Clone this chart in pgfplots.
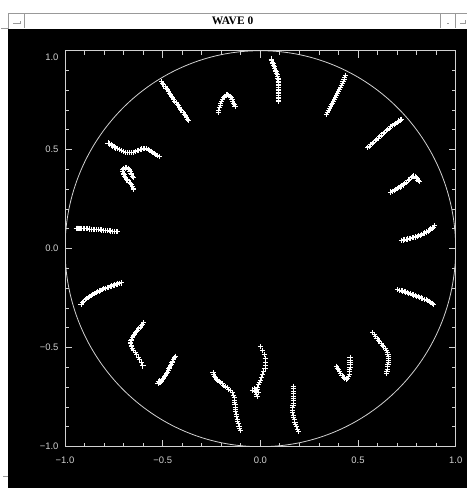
\documentclass[border=0pt]{standalone}
\usepackage{pgfplots}
\pgfplotsset{compat=1.18}
\usepackage{fontspec}
\setmainfont{Liberation Sans}
\newfontfamily\titlefont{Liberation Serif}
\definecolor{axgray}{gray}{0.82}
\definecolor{bargray}{gray}{0.6}
\begin{document}
\begin{tikzpicture}[x=1bp,y=1bp]
% window frame
\fill[black] (0,0) rectangle (467,488);
\fill[white] (0,0) rectangle (8,488);
\fill[white] (0,459) rectangle (467,488);
\draw[bargray, line width=0.8bp] (8,475) -- (467,475);
\draw[bargray, line width=0.8bp] (8,459) -- (8,475);
\draw[bargray, line width=0.8bp] (24,460) -- (24,475);
\draw[bargray, line width=0.8bp] (1,460) -- (8,460);
\draw[bargray, line width=0.6bp] (13,465) -- (20,465) -- (20,467);
\draw[bargray, line width=0.8bp] (440,460) -- (440,475);
\draw[bargray, line width=0.6bp] (447,465) -- (449,465);
\draw[bargray, line width=0.8bp] (455,460) -- (455,475);
\draw[bargray, line width=0.6bp] (460,465) -- (465,465) -- (465,468);
\draw[bargray, line width=0.6bp] (3,12) -- (8,12);
\node[font=\titlefont\bfseries\fontsize{11.5}{13}\selectfont, inner sep=0pt] at (232.5,467.5) {WAVE 0};
\begin{axis}[
  at={(65bp,41.3bp)}, anchor=south west,
  scale only axis, width=390.7bp, height=396bp,
  xmin=-1, xmax=1, ymin=-1, ymax=1,
  xtick={-1,-0.5,0,0.5,1}, ytick={-1,-0.5,0,0.5,1},
  xticklabels={−1.0,−0.5,0.0,0.5,1.0},
  yticklabels={−1.0,−0.5,0.0,0.5,\smash{\raisebox{-9.5bp}{1.0}}},
  minor tick num=4,
  tick align=inside,
  major tick length=7bp, minor tick length=4bp,
  axis line style={axgray, line width=0.8bp},
  every tick/.style={axgray, line width=0.8bp},
  tick label style={axgray, font=\fontsize{9.5}{11}\selectfont},
  xticklabel style={yshift=-7bp},
  yticklabel style={xshift=-3bp},
]
\draw[axgray, line width=0.8bp] (axis cs:0,0) ellipse [x radius=1, y radius=1];
\addplot[only marks, mark=+, mark size=2.6bp, white, mark options={line width=0.9bp}] coordinates {
(-0.505,0.843) (-0.499,0.835) (-0.494,0.827) (-0.488,0.819) (-0.483,0.811) (-0.477,0.803) (-0.472,0.795) (-0.466,0.786) (-0.460,0.778) (-0.455,0.770) (-0.449,0.762) (-0.443,0.754) (-0.438,0.746) (-0.432,0.738) (-0.426,0.730) (-0.420,0.721) (-0.414,0.713) (-0.408,0.705) (-0.402,0.697) (-0.396,0.689) (-0.390,0.680) (-0.384,0.672) (-0.378,0.664) (-0.372,0.655) (-0.368,0.648)
(-0.216,0.690) (-0.213,0.700) (-0.210,0.711) (-0.206,0.722) (-0.202,0.733) (-0.198,0.743) (-0.193,0.753) (-0.188,0.762) (-0.182,0.770) (-0.176,0.776) (-0.169,0.778) (-0.162,0.775) (-0.155,0.769) (-0.150,0.762) (-0.145,0.754) (-0.141,0.745) (-0.137,0.736) (-0.133,0.727) (-0.130,0.720)
(-0.780,0.534) (-0.772,0.529) (-0.764,0.524) (-0.756,0.519) (-0.748,0.514) (-0.740,0.509) (-0.731,0.504) (-0.722,0.499) (-0.712,0.494) (-0.702,0.490) (-0.692,0.487) (-0.682,0.485) (-0.670,0.484) (-0.658,0.485) (-0.648,0.487) (-0.639,0.490) (-0.631,0.494) (-0.623,0.497) (-0.615,0.500) (-0.607,0.503) (-0.599,0.505) (-0.591,0.505) (-0.583,0.504) (-0.575,0.501) (-0.567,0.497) (-0.559,0.492) (-0.551,0.486) (-0.543,0.480) (-0.535,0.475) (-0.527,0.470) (-0.519,0.465)
(-0.650,0.358) (-0.654,0.366) (-0.658,0.374) (-0.662,0.382) (-0.667,0.390) (-0.672,0.398) (-0.677,0.405) (-0.684,0.409) (-0.692,0.408) (-0.699,0.404) (-0.704,0.398) (-0.705,0.390) (-0.702,0.382) (-0.698,0.374) (-0.694,0.366) (-0.689,0.358) (-0.684,0.351) (-0.678,0.344) (-0.672,0.337) (-0.666,0.330) (-0.660,0.322) (-0.655,0.313) (-0.651,0.305) (-0.648,0.299)
(-0.942,0.103) (-0.938,0.103) (-0.934,0.103) (-0.930,0.103) (-0.925,0.102) (-0.920,0.102) (-0.914,0.102) (-0.907,0.101) (-0.899,0.101) (-0.891,0.100) (-0.883,0.100) (-0.874,0.099) (-0.865,0.098) (-0.856,0.097) (-0.847,0.097) (-0.838,0.096) (-0.829,0.095) (-0.820,0.095) (-0.811,0.094) (-0.802,0.093) (-0.793,0.092) (-0.784,0.091) (-0.775,0.090) (-0.766,0.089) (-0.757,0.088) (-0.748,0.087) (-0.739,0.086) (-0.730,0.085)
(0.056,0.958) (0.059,0.950) (0.062,0.942) (0.065,0.934) (0.068,0.926) (0.071,0.918) (0.074,0.910) (0.077,0.902) (0.080,0.894) (0.083,0.886) (0.086,0.878) (0.088,0.870) (0.090,0.862) (0.091,0.854) (0.092,0.846) (0.092,0.838) (0.093,0.830) (0.093,0.822) (0.093,0.814) (0.093,0.806) (0.093,0.798) (0.093,0.790) (0.093,0.782) (0.093,0.774) (0.093,0.766) (0.093,0.758) (0.093,0.750) (0.093,0.742)
(0.436,0.876) (0.432,0.866) (0.428,0.856) (0.423,0.846) (0.419,0.836) (0.414,0.826) (0.409,0.816) (0.404,0.806) (0.399,0.796) (0.394,0.786) (0.389,0.776) (0.384,0.766) (0.379,0.756) (0.374,0.746) (0.369,0.736) (0.364,0.726) (0.359,0.716) (0.354,0.706) (0.349,0.696) (0.344,0.687) (0.339,0.678)
(0.724,0.654) (0.716,0.650) (0.708,0.645) (0.700,0.639) (0.692,0.633) (0.684,0.627) (0.676,0.621) (0.668,0.615) (0.660,0.609) (0.652,0.602) (0.644,0.595) (0.636,0.588) (0.628,0.581) (0.620,0.574) (0.612,0.566) (0.604,0.559) (0.596,0.552) (0.588,0.545) (0.580,0.538) (0.572,0.531) (0.564,0.524) (0.556,0.517) (0.550,0.512)
(0.668,0.286) (0.676,0.290) (0.684,0.294) (0.692,0.299) (0.700,0.303) (0.708,0.308) (0.716,0.312) (0.724,0.317) (0.732,0.322) (0.740,0.328) (0.748,0.335) (0.756,0.343) (0.764,0.351) (0.771,0.358) (0.778,0.364) (0.786,0.367) (0.792,0.366) (0.797,0.360) (0.802,0.353) (0.807,0.346) (0.812,0.340)
(0.722,0.043) (0.730,0.044) (0.738,0.046) (0.746,0.047) (0.754,0.049) (0.762,0.051) (0.770,0.053) (0.778,0.055) (0.786,0.057) (0.794,0.059) (0.802,0.062) (0.810,0.065) (0.818,0.068) (0.826,0.071) (0.834,0.075) (0.842,0.079) (0.850,0.084) (0.858,0.089) (0.865,0.094) (0.872,0.099) (0.879,0.104) (0.886,0.109) (0.893,0.115)
(-0.918,-0.280) (-0.911,-0.272) (-0.904,-0.265) (-0.897,-0.258) (-0.889,-0.252) (-0.881,-0.246) (-0.873,-0.241) (-0.865,-0.236) (-0.857,-0.231) (-0.849,-0.227) (-0.841,-0.222) (-0.833,-0.218) (-0.825,-0.214) (-0.817,-0.210) (-0.809,-0.206) (-0.801,-0.203) (-0.793,-0.200) (-0.785,-0.197) (-0.777,-0.194) (-0.769,-0.191) (-0.761,-0.188) (-0.753,-0.185) (-0.745,-0.183) (-0.737,-0.180) (-0.729,-0.178) (-0.721,-0.176) (-0.713,-0.173)
(-0.598,-0.375) (-0.604,-0.383) (-0.610,-0.390) (-0.616,-0.397) (-0.622,-0.404) (-0.628,-0.411) (-0.634,-0.418) (-0.640,-0.425) (-0.646,-0.432) (-0.651,-0.440) (-0.655,-0.448) (-0.659,-0.456) (-0.662,-0.464) (-0.664,-0.472) (-0.663,-0.480) (-0.661,-0.488) (-0.658,-0.496) (-0.654,-0.504) (-0.648,-0.514) (-0.641,-0.524) (-0.633,-0.535) (-0.625,-0.547) (-0.617,-0.560) (-0.609,-0.575) (-0.601,-0.592)
(-0.436,-0.543) (-0.440,-0.551) (-0.444,-0.559) (-0.448,-0.567) (-0.452,-0.575) (-0.456,-0.583) (-0.460,-0.591) (-0.464,-0.599) (-0.468,-0.607) (-0.472,-0.615) (-0.476,-0.623) (-0.480,-0.631) (-0.484,-0.639) (-0.489,-0.647) (-0.494,-0.655) (-0.500,-0.662) (-0.506,-0.668) (-0.512,-0.673) (-0.518,-0.677) (-0.524,-0.680) (-0.520,-0.670) (-0.514,-0.668)
(-0.242,-0.627) (-0.238,-0.635) (-0.234,-0.643) (-0.229,-0.651) (-0.224,-0.658) (-0.218,-0.665) (-0.211,-0.671) (-0.203,-0.677) (-0.195,-0.683) (-0.187,-0.689) (-0.179,-0.695) (-0.171,-0.702) (-0.162,-0.710) (-0.152,-0.718) (-0.143,-0.728) (-0.137,-0.740) (-0.134,-0.752) (-0.132,-0.764) (-0.131,-0.776) (-0.130,-0.788) (-0.129,-0.800) (-0.128,-0.812) (-0.126,-0.824) (-0.124,-0.836) (-0.122,-0.848) (-0.119,-0.860) (-0.116,-0.872) (-0.113,-0.884) (-0.109,-0.896) (-0.105,-0.908) (-0.101,-0.918)
(0.000,-0.495) (0.012,-0.515) (0.020,-0.535) (0.025,-0.555) (0.026,-0.572) (0.026,-0.588) (0.024,-0.604) (0.018,-0.620) (0.012,-0.636) (0.006,-0.652) (0.000,-0.664) (-0.006,-0.676) (-0.010,-0.688) (-0.014,-0.700) (-0.016,-0.712) (-0.018,-0.724) (-0.018,-0.736) (-0.017,-0.746) (-0.030,-0.708) (-0.040,-0.714) (-0.025,-0.720) (-0.012,-0.728)
(0.168,-0.695) (0.169,-0.708) (0.169,-0.720) (0.169,-0.732) (0.169,-0.744) (0.169,-0.756) (0.168,-0.768) (0.168,-0.780) (0.167,-0.792) (0.166,-0.804) (0.166,-0.816) (0.166,-0.828) (0.168,-0.840) (0.170,-0.852) (0.173,-0.864) (0.177,-0.876) (0.181,-0.888) (0.186,-0.900) (0.191,-0.912) (0.196,-0.924)
(0.390,-0.594) (0.395,-0.603) (0.400,-0.612) (0.406,-0.621) (0.412,-0.630) (0.418,-0.639) (0.425,-0.648) (0.432,-0.656) (0.440,-0.661) (0.447,-0.655) (0.452,-0.645) (0.455,-0.634) (0.457,-0.622) (0.458,-0.610) (0.459,-0.598) (0.459,-0.586) (0.459,-0.574) (0.459,-0.562) (0.459,-0.550)
(0.576,-0.425) (0.583,-0.434) (0.590,-0.443) (0.597,-0.452) (0.604,-0.461) (0.611,-0.470) (0.618,-0.479) (0.625,-0.488) (0.632,-0.496) (0.639,-0.504) (0.645,-0.513) (0.650,-0.523) (0.653,-0.533) (0.655,-0.543) (0.655,-0.553) (0.655,-0.563) (0.654,-0.573) (0.653,-0.584) (0.652,-0.596) (0.650,-0.608) (0.648,-0.620) (0.647,-0.631)
(0.704,-0.208) (0.712,-0.210) (0.720,-0.212) (0.728,-0.214) (0.736,-0.216) (0.744,-0.219) (0.752,-0.222) (0.760,-0.225) (0.768,-0.228) (0.776,-0.231) (0.784,-0.234) (0.792,-0.237) (0.800,-0.240) (0.808,-0.243) (0.816,-0.246) (0.824,-0.249) (0.832,-0.252) (0.840,-0.255) (0.848,-0.258) (0.856,-0.261) (0.864,-0.265) (0.872,-0.270) (0.880,-0.275) (0.886,-0.280)
};
\end{axis}
\pgfresetboundingbox
\useasboundingbox (0,0) rectangle (467,488);
\end{tikzpicture}
\end{document}
